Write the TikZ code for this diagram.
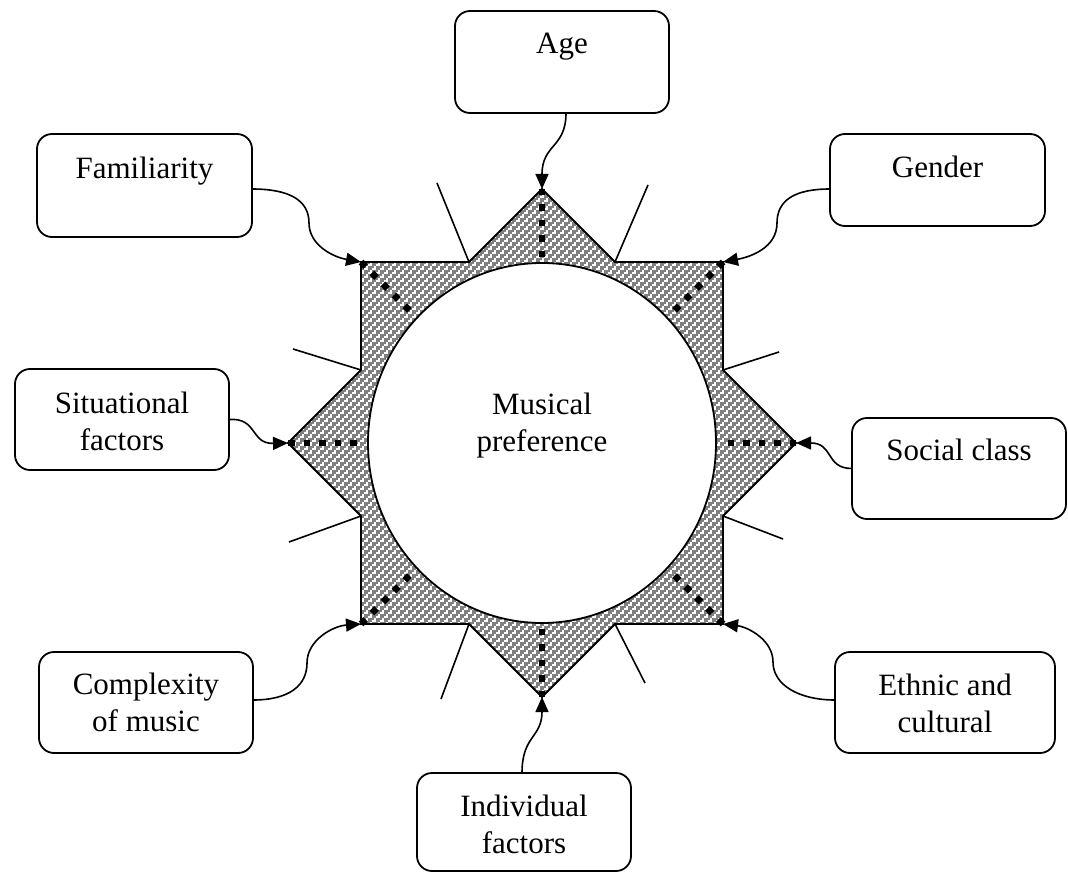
\documentclass[tikz,border=0pt]{standalone}
\usepackage{fontspec}
\setmainfont{Liberation Serif}
\usetikzlibrary{arrows.meta,patterns,calc}

% woven texture used inside the star band: rows of small hooks
\pgfdeclarepatternformonly{weave}{\pgfqpoint{-1pt}{-1pt}}{\pgfqpoint{9pt}{9pt}}{\pgfqpoint{8pt}{8pt}}{%
  \pgfsetlinewidth{1.2pt}%
  \pgfsetbuttcap
  \pgfpathmoveto{\pgfqpoint{0pt}{1pt}}\pgfpathlineto{\pgfqpoint{3pt}{1pt}}\pgfpathlineto{\pgfqpoint{3pt}{4pt}}%
  \pgfpathmoveto{\pgfqpoint{4pt}{5pt}}\pgfpathlineto{\pgfqpoint{7pt}{5pt}}\pgfpathlineto{\pgfqpoint{7pt}{8pt}}%
  \pgfusepath{stroke}}

\begin{document}
\begin{tikzpicture}[x=1pt,y=-1pt,
  factor/.style={draw, line width=1.8pt, rounded corners=15pt, inner sep=0pt, outer sep=0pt},
  caption/.style={anchor=north, inner sep=0pt, align=center, font=\fontsize{31}{37}\selectfont},
  link/.style={line width=1.6pt, -{Triangle[length=15pt,width=13pt]}},
  ray/.style={line width=1.6pt},
  spoke/.style={line width=6.5pt, dash pattern=on 6.5pt off 9pt},
  outline/.style={line width=1.8pt}]

\useasboundingbox (0,0) rectangle (1068,874);

% star geometry
\coordinate (ctr) at (542,443);
\coordinate (tN) at (542,189);  \coordinate (tS) at (542,697);
\coordinate (tW) at (288,443);  \coordinate (tE) at (796,443);
\coordinate (cNW) at (361,262); \coordinate (cNE) at (723,262);
\coordinate (cSW) at (361,624); \coordinate (cSE) at (723,624);
\coordinate (nN1) at (469,262); \coordinate (nN2) at (615,262);
\coordinate (nE1) at (723,370); \coordinate (nE2) at (723,516);
\coordinate (nS1) at (469,624); \coordinate (nS2) at (615,624);
\coordinate (nW1) at (361,370); \coordinate (nW2) at (361,516);

\def\starpath{(tN) -- (nN2) -- (cNE) -- (nE1) -- (tE) -- (nE2) -- (cSE) -- (nS2) -- (tS)
  -- (nS1) -- (cSW) -- (nW2) -- (tW) -- (nW1) -- (cNW) -- (nN1) -- cycle}
\fill[black!50] \starpath;
\fill[pattern=weave, pattern color=white] \starpath;
\draw[outline, line join=miter] \starpath;
\draw[outline, fill=white] (ctr) ellipse [x radius=174, y radius=180];

% short rays at the inner corners
\draw[ray] (nN1) -- (437,183);
\draw[ray] (nN2) -- (648,185);
\draw[ray] (nE1) -- (779,352);
\draw[ray] (nE2) -- (783,539);
\draw[ray] (nS2) -- (645,683);
\draw[ray] (nS1) -- (441,699);
\draw[ray] (nW2) -- (289,542);
\draw[ray] (nW1) -- (293,349);

% dotted spokes from the points towards the centre
\foreach \p in {tN,tS,tW,tE,cNW,cNE,cSW,cSE}
  \draw[spoke] (\p) -- ($(\p)!70pt!(ctr)$);

\node[caption] (mp) at (542,393) {Musical\\preference};

% factor boxes
\node[factor, minimum width=214pt, minimum height=102pt] (age) at (562,62) {};
\node[factor, minimum width=215pt, minimum height=103pt] (fam) at (144.5,185.5) {};
\node[factor, minimum width=215pt, minimum height=92pt]  (gen) at (937.5,180) {};
\node[factor, minimum width=214pt, minimum height=101pt] (sit) at (122,419.5) {};
\node[factor, minimum width=214pt, minimum height=101pt] (soc) at (959,468.5) {};
\node[factor, minimum width=214pt, minimum height=101pt] (com) at (146,702.5) {};
\node[factor, minimum width=220pt, minimum height=101pt] (eth) at (945,702.5) {};
\node[factor, minimum width=214pt, minimum height=98pt]  (ind) at (524,822) {};

\node[caption] (ageT) at (562,33)  {Age};
\node[caption] (famT) at (144.5,157) {Familiarity};
\node[caption] (genT) at (937.5,156) {Gender};
\node[caption] (sitT) at (122,392) {Situational\\factors};
\node[caption] (socT) at (959,439) {Social class};
\node[caption] (comT) at (146,673) {Complexity\\of music};
\node[caption] (ethT) at (945,674) {Ethnic and\\cultural};
\node[caption] (indT) at (524,795) {Individual\\factors};

% curved connectors into the star
\draw[link] ([xshift=4pt]age.south) .. controls +(0,35) and +(0,-45) .. (tN);
\draw[link] ([yshift=-3.5pt]fam.east) .. controls +(37,0) and +(0,-23) .. (309,223)
  .. controls +(0,22) and +(-28,-5) .. (cNW);
\draw[link] ([yshift=-9pt]gen.west) .. controls +(-35,0) and +(0,-23) .. (777,223)
  .. controls +(0,25) and +(27,-5) .. (cNE);
\draw[link] (sit.east) .. controls +(29,-2) and +(-38,1) .. (tW);
\draw[link] (soc.west) .. controls +(-27,0) and +(38,0) .. (tE);
\draw[link] ([yshift=2.5pt]com.east) .. controls +(37,0) and +(0,22) .. (307,663)
  .. controls +(0,-23) and +(-28,2) .. (cSW);
\draw[link] ([yshift=2.5pt]eth.west) .. controls +(-36,0) and +(0,23) .. (773,662)
  .. controls +(0,-22) and +(25,3) .. (cSE);
\draw[link] ([xshift=-2pt]ind.north) .. controls +(0,-38) and +(0,41) .. (tS);
\end{tikzpicture}
\end{document}
